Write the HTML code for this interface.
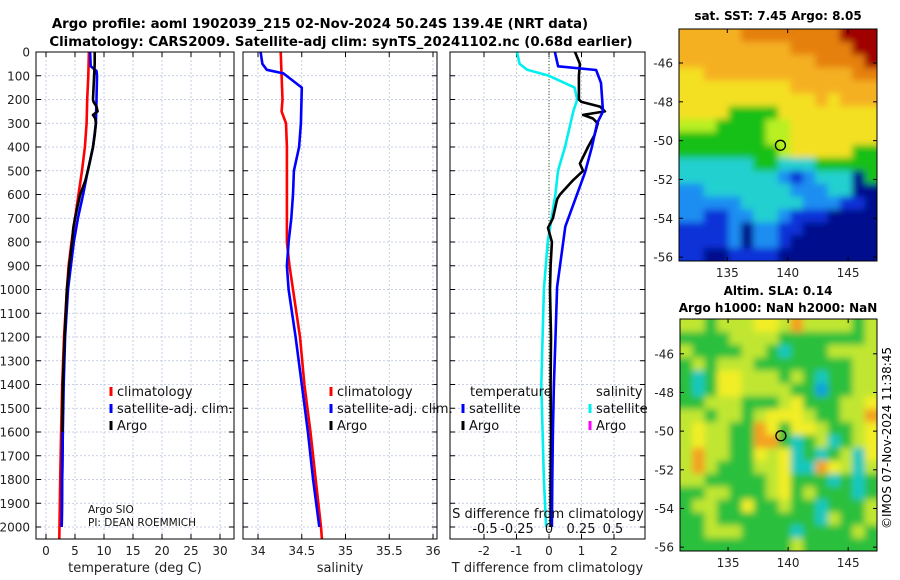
<!DOCTYPE html>
<html><head><meta charset="utf-8"><style>
html,body{margin:0;padding:0;background:#fff;}
svg{display:block;font-family:"DejaVu Sans","Liberation Sans",sans-serif;}
</style></head><body>
<svg id="fig" width="900" height="580" viewBox="0 0 900 580">
<defs>
<filter id="blur" filterUnits="userSpaceOnUse" x="640" y="0" width="260" height="580"><feGaussianBlur stdDeviation="3.5"/></filter>
</defs>
<text x="320" y="28" font-size="13.3" font-weight="bold" text-anchor="middle">Argo profile: aoml 1902039_215 02-Nov-2024 50.24S 139.4E (NRT data)</text>
<text x="341" y="46" font-size="13.3" font-weight="bold" text-anchor="middle">Climatology: CARS2009. Satellite-adj clim: synTS_20241102.nc (0.68d earlier)</text>
<text x="778" y="20" font-size="12" font-weight="bold" text-anchor="middle">sat. SST: 7.45 Argo: 8.05</text>
<text x="778" y="295" font-size="12" font-weight="bold" text-anchor="middle">Altim. SLA: 0.14</text>
<text x="778" y="312" font-size="12" font-weight="bold" text-anchor="middle">Argo h1000: NaN h2000: NaN</text>
<text transform="translate(891,438) rotate(-90)" font-size="12" text-anchor="middle">©IMOS 07-Nov-2024 11:38:45</text>
<g id="plots"></g>
</svg>
<script>
// ---------- profile data ----------
const tempPres = [0,100,200,300,400,500,600,700,800,900,1000,1200,1400,1600,1800,2050];
const tempClim = [7.4,7.3,7.1,7.0,6.7,6.2,5.6,5.0,4.4,3.9,3.6,3.1,2.8,2.6,2.45,2.3];
const satPres = [0,60,80,100,200,300,400,500,600,700,800,1000,1200,1400,1600,1800,2000];
const tempSat = [7.6,7.7,8.7,8.8,8.7,8.6,8.1,7.2,6.4,5.5,4.8,3.8,3.3,3.05,2.9,2.8,2.7];
const argoPres = [0,50,100,200,210,230,250,265,280,300,350,400,470,500,540,600,620,700,740,800,900,1000,1200,1400,1600,1800,2000];
const tempArgo = [8.4,8.4,8.3,8.1,8.2,8.7,8.9,8.1,8.5,8.6,8.4,8.1,7.5,7.2,6.8,5.9,5.7,5.0,4.7,4.5,4.0,3.6,3.2,2.9,2.8,2.75,2.7];
const salClimPres = [0,200,250,300,400,500,600,700,800,900,1000,1200,1400,1600,1800,2000,2050];
const salClim = [34.26,34.28,34.27,34.32,34.33,34.33,34.33,34.33,34.33,34.36,34.40,34.48,34.53,34.60,34.66,34.72,34.73];
const salSatPres = [0,50,75,90,150,300,400,500,600,700,800,900,1000,1200,1400,1600,1800,2000];
const salSat = [34.03,34.05,34.10,34.29,34.50,34.49,34.47,34.41,34.40,34.38,34.35,34.33,34.35,34.43,34.50,34.57,34.63,34.70];
const dTPres = [0,60,76,130,250,300,400,510,735,900,990,1200,1400,1600,1800,2000];
const dTSat = [0.18,0.28,1.45,1.6,1.66,1.48,1.32,1.1,0.5,0.34,0.25,0.2,0.15,0.12,0.1,0.09];
const dTArgo = [0.8,0.95,0.92,0.92,1.0,1.57,1.72,1.05,1.35,1.5,1.4,1.2,0.95,1.05,0.74,0.34,0.25,0.12,-0.03,0.09,0.05,0.03,0.06,0.05,0.06,0.05,0.05];
const dSPres = [0,50,75,100,150,200,250,400,500,600,800,1000,1200,1400,1600,1800,2000];
const dSSat = [-0.25,-0.23,-0.17,0.0,0.2,0.22,0.19,0.125,0.07,0.05,-0.01,-0.04,-0.05,-0.06,-0.05,-0.04,-0.023];
const presTicks = [0,100,200,300,400,500,600,700,800,900,1000,1100,1200,1300,1400,1500,1600,1700,1800,1900,2000];
const tempTicks = [0,5,10,15,20,25,30];
const salTicks = [34,34.5,35,35.5,36];
const salTickLabels = ["34","34.5","35","35.5","36"];
const dTTicks = [-2,-1,0,1,2];
const dSTicks = [-0.5,-0.25,0,0.25,0.5];
const dSTickLabels = ["-0.5","-0.25","0","0.25","0.5"];
// ---------- map data (colour index per cell, rows top->bottom) ----------
const sstRows = [
"7777788888888999","7777777778888899","7777777777788889","6677777777777788",
"6666666667777777","6666666666676777","6666444466666666","5554444556666666",
"4444444556666666","4444444456666644","3333334433344444","3333333321233304",
"2233333332223300","2222233333222110","2211223321110000","1111202211000000",
"1111202210000000","1100111100000000"];
const slaRows = [
"5545556657555545","4444555544444445","5444455434445555","4545554444444455",
"4346655545434455","4346655554424455","4455544456444556","5545545666544557",
"5655447646654456","5655447743453456","5755446563434536","5754445563376535",
"5544444564443434","4455444564544434","4554464454434445","4454444444435445",
"4455544443444454","4444444445444444"];
const sstPalette = ["#00098c","#0a30d8","#1c8ef2","#22d0d0","#12c012","#b8f020","#f4e020","#f5b020","#e58010","#a00000"];
const slaPalette = ["#0030c0","#0070e0","#10a0e0","#18c8c0","#2cc03c","#c0e630","#f2ee28","#f4a020","#e07010","#a00000"];
const lonTicks = [135,140,145];
const latTicks = [-46,-48,-50,-52,-54,-56];
const argoLon = 139.4, argoLat = -50.24;

const NS = "http://www.w3.org/2000/svg";
const root = document.getElementById("plots");
function mk(tag, attrs, parent, text){
  const e = document.createElementNS(NS, tag);
  for (const k in attrs) e.setAttribute(k, attrs[k]);
  if (text !== undefined) e.textContent = text;
  (parent || root).appendChild(e);
  return e;
}
const Y0 = 52, YB = 539;
function py(p){ return Y0 + p * 0.2375; }
function lin(d0,d1,r0,r1){ return v => r0 + (v-d0)*(r1-r0)/(d1-d0); }
const xT = lin(0,30,46,220);
const xS = lin(34,36,258,433);
const xD = lin(0,1,549,581.5);
const xDS = lin(0,1,549,677);

function panel(name, x0, x1, xs, ticks, labels, xlabel){
  const g = mk("g", {});
  
  
  presTicks.forEach(p => {
    const l = mk("line", {x1:x0,x2:x1,y1:py(p),y2:py(p),stroke:"#b8c0e0","stroke-width":0.8,"stroke-dasharray":"2,2"}, g);
    
    
    mk("line",{x1:x0,x2:x0+5,y1:py(p),y2:py(p),stroke:"#000"},g);
    mk("line",{x1:x1-5,x2:x1,y1:py(p),y2:py(p),stroke:"#000"},g);
  });
  ticks.forEach((t,i) => {
    const x = xs(t);
    const l = mk("line", {x1:x,x2:x,y1:Y0,y2:YB,stroke:"#b8c0e0","stroke-width":0.8,"stroke-dasharray":"2,2"}, g);
    
    
    mk("line",{x1:x,x2:x,y1:YB-5,y2:YB,stroke:"#000"},g);
    mk("line",{x1:x,x2:x,y1:Y0,y2:Y0+5,stroke:"#000"},g);
    const tl = mk("text",{x:x,y:555,"font-size":12,"text-anchor":"middle",fill:"#222"},g,labels[i]);
    
    
  });
  const xl = mk("text",{x:(x0+x1)/2,y:572,"font-size":13,"text-anchor":"middle",fill:"#222"},g,xlabel);
  
  
  return g;
}
function clipRect(id,x0,x1){
  const cp = mk("clipPath",{id:id});
  mk("rect",{x:x0,y:Y0,width:x1-x0,height:YB-Y0},cp);
}
function series(g, pres, vals, xs, color, name, clip){
  const d = pres.map((p,i)=>(i?"L":"M")+xs(vals[i]).toFixed(1)+","+py(p).toFixed(1)).join("");
  const e = mk("path",{d:d,fill:"none",stroke:color,"stroke-width":2.6,"stroke-linejoin":"round","clip-path":"url(#"+clip+")"},g);
  
  
}
function frame(g,x0,x1){ mk("rect",{x:x0,y:Y0,width:x1-x0,height:YB-Y0,fill:"none",stroke:"#000","stroke-width":1},g); }
function legend(g,x,y,color,label){
  mk("rect",{x:x-1.5,y:y-9,width:3,height:9,fill:color},g);
  const t = mk("text",{x:x+6,y:y,"font-size":13,fill:"#111"},g,label);
  
  
}

// Panel 1 temperature
const g1 = panel("temperature-panel",36,234,xT,tempTicks,tempTicks.map(String),"temperature (deg C)");
presTicks.forEach(p=>{
  const t = mk("text",{x:30,y:py(p)+4.5,"font-size":12,"text-anchor":"end",fill:"#222"},g1,String(p));
  
  
});
clipRect("c1",36,234);
series(g1,tempPres,tempClim,xT,"#f00","temp-climatology-line","c1");
series(g1,satPres,tempSat,xT,"#00f","temp-satellite-line","c1");
series(g1,argoPres,tempArgo,xT,"#000","temp-argo-line","c1");
series(g1,satPres.slice(-3),tempSat.slice(-3),xT,"#00f","temp-satellite-line-deep","c1");
frame(g1,36,234);
legend(g1,111,396,"#f00","climatology");
legend(g1,111,413,"#00f","satellite-adj. clim.");
legend(g1,111,430,"#000","Argo");
mk("text",{x:88,y:513,"font-size":10.5,fill:"#111"},g1,"Argo SIO");
mk("text",{x:88,y:526,"font-size":10.5,fill:"#111"},g1,"PI: DEAN ROEMMICH");

// Panel 2 salinity
const g2 = panel("salinity-panel",243,437,xS,salTicks,salTickLabels,"salinity");
clipRect("c2",243,437);
series(g2,salClimPres,salClim,xS,"#f00","sal-climatology-line","c2");
series(g2,salSatPres,salSat,xS,"#00f","sal-satellite-line","c2");
frame(g2,243,437);
legend(g2,331,396,"#f00","climatology");
legend(g2,331,413,"#00f","satellite-adj. clim.");
legend(g2,331,430,"#000","Argo");

// Panel 3 differences
const g3 = panel("difference-panel",450,645,xD,dTTicks,dTTicks.map(String),"T difference from climatology");
clipRect("c3",450,645);
mk("line",{x1:xD(0),x2:xD(0),y1:Y0,y2:YB,stroke:"#3a5a20","stroke-width":1,"stroke-dasharray":"1,2"},g3);
series(g3,dSPres,dSSat,xDS,"#00f0f0","sal-diff-satellite-line","c3");
series(g3,argoPres,dTArgo,xD,"#000","temp-diff-argo-line","c3");
series(g3,dTPres,dTSat,xD,"#00f","temp-diff-satellite-line","c3");
frame(g3,450,645);
mk("text",{x:470,y:396,"font-size":13,fill:"#111"},g3,"temperature");
mk("text",{x:596,y:396,"font-size":13,fill:"#111"},g3,"salinity");
legend(g3,463,413,"#00f","satellite");
legend(g3,463,430,"#000","Argo");
legend(g3,590,413,"#00f0f0","satellite");
legend(g3,590,430,"#f0f","Argo");
mk("text",{x:548,y:518,"font-size":13,"text-anchor":"middle",fill:"#111"},g3,"S difference from climatology");
dSTicks.forEach((t,i)=>{
  const e = mk("text",{x:xDS(t),y:533,"font-size":13,"text-anchor":"middle",fill:"#111"},g3,dSTickLabels[i]);
  
  
});

// Maps
function map(name, rows, pal, x0, x1, y0, y1, latTop, latBot, clipId){
  const lonL = 131.0, lonR = 147.4;
  const g = mk("g",{});
  
  
  const cp = mk("clipPath",{id:clipId});
  mk("rect",{x:x0,y:y0,width:x1-x0,height:y1-y0},cp);
  const cg = mk("g",{"clip-path":"url(#"+clipId+")"},g);
  const bg = mk("g",{filter:"url(#blur)"},cg);
  const nr = rows.length, nc = rows[0].length;
  const cw = (x1-x0)/nc, ch = (y1-y0)/nr;
  rows.forEach((r,ri)=>{
    for (let ci=0; ci<nc; ci++){
      const ex0 = ci===0 ? -8 : 0, ey0 = ri===0 ? -8 : 0;
      const ex1 = ci===nc-1 ? 8 : 0, ey1 = ri===nr-1 ? 8 : 0;
      const c = mk("rect",{x:(x0+ci*cw+ex0).toFixed(2),y:(y0+ri*ch+ey0).toFixed(2),width:(cw+0.6-ex0+ex1).toFixed(2),height:(ch+0.6-ey0+ey1).toFixed(2),fill:pal[+r[ci]]},bg);
      
      
    }
  });
  const lx = lin(lonL,lonR,x0,x1), ly = lin(latTop,latBot,y0,y1);
  mk("rect",{x:x0,y:y0,width:x1-x0,height:y1-y0,fill:"none",stroke:"#000"},g);
  lonTicks.forEach(l=>{
    mk("line",{x1:lx(l),x2:lx(l),y1:y1,y2:y1-4,stroke:"#000"},g);
    mk("line",{x1:lx(l),x2:lx(l),y1:y0,y2:y0+4,stroke:"#000"},g);
    const t = mk("text",{x:lx(l),y:y1+16,"font-size":12,"text-anchor":"middle",fill:"#222"},g,String(l));
    
    
  });
  latTicks.forEach(l=>{
    mk("line",{x1:x0,x2:x0+4,y1:ly(l),y2:ly(l),stroke:"#000"},g);
    mk("line",{x1:x1,x2:x1-4,y1:ly(l),y2:ly(l),stroke:"#000"},g);
    const t = mk("text",{x:x0-6,y:ly(l)+4.5,"font-size":12,"text-anchor":"end",fill:"#222"},g,String(l));
    
    
  });
  const m = mk("circle",{cx:lx(argoLon),cy:ly(argoLat),r:5,fill:"none",stroke:"#000","stroke-width":1.3},g);
  
  
}
map("sst-map", sstRows, sstPalette, 679, 877, 29, 261, -44.25, -56.2, "clipSst");
map("sla-map", slaRows, slaPalette, 680, 877, 319, 551, -44.2, -56.2, "clipSla");
</script>
</body></html>
